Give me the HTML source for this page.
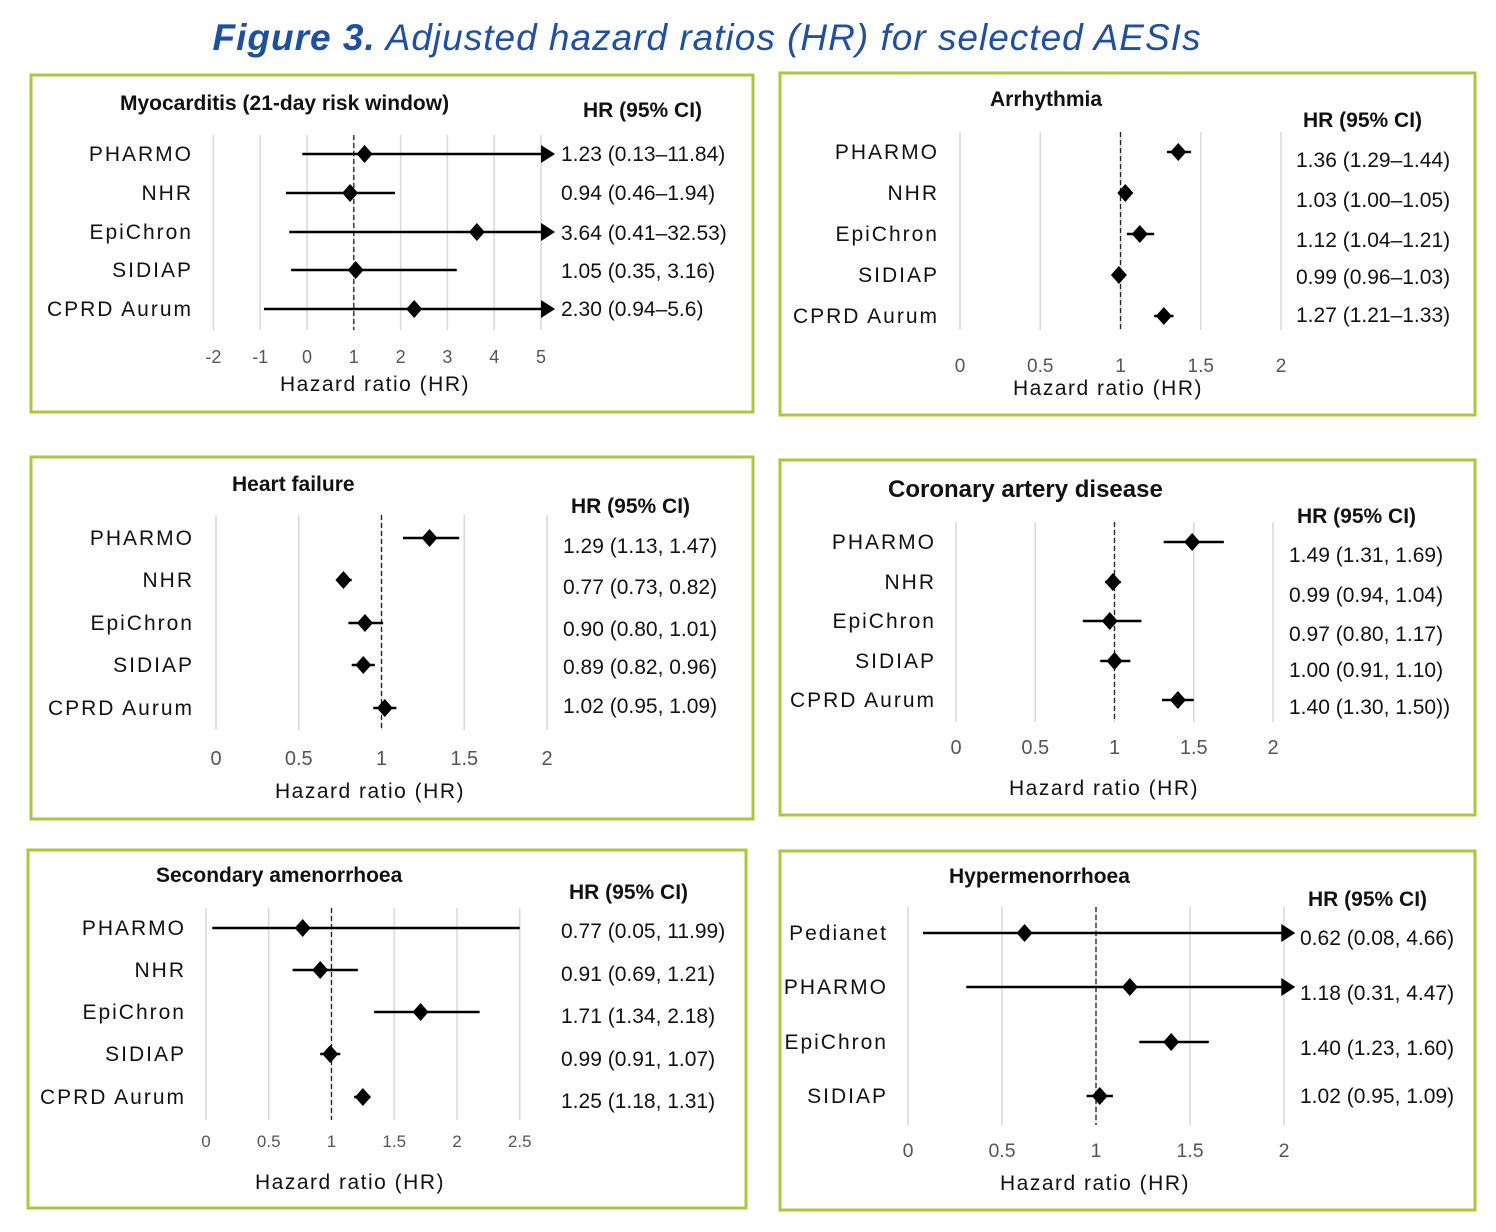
<!DOCTYPE html>
<html><head><meta charset="utf-8"><style>
html,body{margin:0;padding:0;background:#fff}
svg{display:block;font-family:"Liberation Sans",sans-serif}
</style></head><body>
<svg id="fig" width="1496" height="1232" viewBox="0 0 1496 1232">
<text x="707" y="50" text-anchor="middle" font-size="37" letter-spacing="1" font-style="italic" fill="#1f4fa0"><tspan font-weight="bold">Figure 3.</tspan> Adjusted hazard ratios (HR) for selected AESIs</text>
</svg>
<script>
// Panel 1: Myocarditis
const p1Labels=["PHARMO","NHR","EpiChron","SIDIAP","CPRD Aurum"];
const p1HR=[1.23,0.92,3.63,1.04,2.29];
const p1Lo=[-0.1,-0.45,-0.38,-0.34,-0.92];
const p1Hi=[5.3,1.88,5.3,3.2,5.3];
const p1Text=["1.23 (0.13–11.84)","0.94 (0.46–1.94)","3.64 (0.41–32.53)","1.05 (0.35, 3.16)","2.30 (0.94–5.6)"];
const p1Ticks=[-2,-1,0,1,2,3,4,5];
// Panel 2: Arrhythmia
const p2Labels=["PHARMO","NHR","EpiChron","SIDIAP","CPRD Aurum"];
const p2HR=[1.36,1.03,1.12,0.99,1.27];
const p2Lo=[1.29,1.00,1.04,0.96,1.21];
const p2Hi=[1.44,1.05,1.21,1.03,1.33];
const p2Text=["1.36 (1.29–1.44)","1.03 (1.00–1.05)","1.12 (1.04–1.21)","0.99 (0.96–1.03)","1.27 (1.21–1.33)"];
const p2Ticks=[0,0.5,1,1.5,2];
// Panel 3: Heart failure
const p3Labels=["PHARMO","NHR","EpiChron","SIDIAP","CPRD Aurum"];
const p3HR=[1.29,0.77,0.90,0.89,1.02];
const p3Lo=[1.13,0.73,0.80,0.82,0.95];
const p3Hi=[1.47,0.82,1.01,0.96,1.09];
const p3Text=["1.29 (1.13, 1.47)","0.77 (0.73, 0.82)","0.90 (0.80, 1.01)","0.89 (0.82, 0.96)","1.02 (0.95, 1.09)"];
const p3Ticks=[0,0.5,1,1.5,2];
// Panel 4: Coronary artery disease
const p4Labels=["PHARMO","NHR","EpiChron","SIDIAP","CPRD Aurum"];
const p4HR=[1.49,0.99,0.97,1.00,1.40];
const p4Lo=[1.31,0.94,0.80,0.91,1.30];
const p4Hi=[1.69,1.04,1.17,1.10,1.50];
const p4Text=["1.49 (1.31, 1.69)","0.99 (0.94, 1.04)","0.97 (0.80, 1.17)","1.00 (0.91, 1.10)","1.40 (1.30, 1.50))"];
const p4Ticks=[0,0.5,1,1.5,2];
// Panel 5: Secondary amenorrhoea
const p5Labels=["PHARMO","NHR","EpiChron","SIDIAP","CPRD Aurum"];
const p5HR=[0.77,0.91,1.71,0.99,1.25];
const p5Lo=[0.05,0.69,1.34,0.91,1.18];
const p5Hi=[2.5,1.21,2.18,1.07,1.31];
const p5Text=["0.77 (0.05, 11.99)","0.91 (0.69, 1.21)","1.71 (1.34, 2.18)","0.99 (0.91, 1.07)","1.25 (1.18, 1.31)"];
const p5Ticks=[0,0.5,1,1.5,2,2.5];
// Panel 6: Hypermenorrhoea
const p6Labels=["Pedianet","PHARMO","EpiChron","SIDIAP"];
const p6HR=[0.62,1.18,1.40,1.02];
const p6Lo=[0.08,0.31,1.23,0.95];
const p6Hi=[2.06,2.06,1.60,1.09];
const p6Text=["0.62 (0.08, 4.66)","1.18 (0.31, 4.47)","1.40 (1.23, 1.60)","1.02 (0.95, 1.09)"];
const p6Ticks=[0,0.5,1,1.5,2];

const NS="http://www.w3.org/2000/svg";
const svg=document.getElementById('fig');
function mk(tag,attrs,parent,txt){const e=document.createElementNS(NS,tag);for(const k in attrs)e.setAttribute(k,attrs[k]);if(txt!==undefined)e.textContent=txt;(parent||svg).appendChild(e);return e;}

function panel(c){
  const g=mk('g',{});
  
  
  const box=mk('rect',{x:c.box[0],y:c.box[1],width:c.box[2]-c.box[0],height:c.box[3]-c.box[1],fill:'none',stroke:'#a9c73f','stroke-width':3},g);
  
  
  const sx=v=>c.x0+(v-c.t0)*c.ppu;
  const t=mk('text',{x:c.title[0],y:c.title[1],'font-size':c.titleSize||21,'font-weight':'bold',fill:'#111'},g,c.titleText);
  
  
  const h=mk('text',{x:c.head[0],y:c.head[1],'font-size':21,'font-weight':'bold',fill:'#111'},g,'HR (95% CI)');
  
  
  c.ticks.forEach(v=>{
    const gl=mk('line',{x1:sx(v),x2:sx(v),y1:c.grid[0],y2:c.grid[1],stroke:'#d9d9d9','stroke-width':1.5},g);
    
    
    const tl=mk('text',{x:sx(v),y:c.tickY,'text-anchor':'middle','font-size':c.tickSize||19,fill:'#555'},g,String(v));
    
    
  });
  const ref=mk('line',{x1:sx(1),x2:sx(1),y1:c.grid[0],y2:c.grid[1],stroke:'#222','stroke-width':1.3,'stroke-dasharray':'5,3'},g);
  
  
  const at=mk('text',{x:c.axTitle[0],y:c.axTitle[1],'text-anchor':'middle','font-size':21,'letter-spacing':1.5,fill:'#111'},g,'Hazard ratio (HR)');
  
  
  c.labels.forEach((lab,i)=>{
    const y=c.rows[i];
    const l=mk('text',{x:c.labelX,y:y+7,'text-anchor':'end','font-size':21,'letter-spacing':2,fill:'#111'},g,lab);
    
    
    const lo=sx(c.lo[i]),hi=sx(c.hi[i]);
    const arrow=c.arrowMax!==undefined&&c.hi[i]>=c.arrowMax;
    const ci=mk('line',{x1:lo,x2:arrow?hi-12:hi,y1:y,y2:y,stroke:'#000','stroke-width':2.5},g);
    
    
    if(arrow){
      const a=mk('polygon',{points:`${hi},${y} ${hi-14},${y-9} ${hi-14},${y+9}`,fill:'#000'},g);
      
      
    }
    const px=sx(c.hr[i]);
    const d=mk('polygon',{points:`${px},${y-9} ${px+8},${y} ${px},${y+9} ${px-8},${y}`,fill:'#000'},g);
    
    
    const vt=mk('text',{x:c.valX,y:c.valRows[i]+7,'font-size':21,fill:'#111'},g,c.text[i]);
    
    
  });
}

panel({name:'myocarditis-panel',box:[31,75,753,412],title:[120,110],titleText:'Myocarditis (21-day risk window)',head:[583,117],
  x0:307,t0:0,ppu:46.8,ticks:p1Ticks,grid:[135,330],tickY:363,tickSize:18,axTitle:[375,391],labelX:193,
  rows:[154,193,232,270,309],valRows:[154,193,233,271,309],valX:561,labels:p1Labels,hr:p1HR,lo:p1Lo,hi:p1Hi,text:p1Text,arrowMax:5.3});
panel({name:'arrhythmia-panel',box:[780,73,1475,415],title:[990,106],titleText:'Arrhythmia',head:[1303,127],
  x0:960,t0:0,ppu:160.5,ticks:p2Ticks,grid:[132,330],tickY:372,axTitle:[1108,395],labelX:939,
  rows:[152,193,234,275,316],valRows:[160,200,240,277,315],valX:1296,labels:p2Labels,hr:p2HR,lo:p2Lo,hi:p2Hi,text:p2Text});
panel({name:'heart-failure-panel',box:[31,457,753,819],title:[232,491],titleText:'Heart failure',head:[571,513],
  x0:216,t0:0,ppu:165.5,ticks:p3Ticks,grid:[515,730],tickY:765,tickSize:20,axTitle:[370,798],labelX:194,
  rows:[538,580,623,665,708],valRows:[546,587,629,667,706],valX:563,labels:p3Labels,hr:p3HR,lo:p3Lo,hi:p3Hi,text:p3Text});
panel({name:'coronary-artery-disease-panel',box:[780,460,1475,815],title:[888,497],titleSize:24,titleText:'Coronary artery disease',head:[1297,523],
  x0:956,t0:0,ppu:158.5,ticks:p4Ticks,grid:[522,722],tickY:754,tickSize:20,axTitle:[1104,795],labelX:936,
  rows:[542,582,621,661,700],valRows:[555,595,634,670,707],valX:1289,labels:p4Labels,hr:p4HR,lo:p4Lo,hi:p4Hi,text:p4Text});
panel({name:'secondary-amenorrhoea-panel',box:[28,850,746,1208],title:[156,882],titleText:'Secondary amenorrhoea',head:[569,899],
  x0:206,t0:0,ppu:125.5,ticks:p5Ticks,grid:[908,1120],tickY:1147,tickSize:17,axTitle:[350,1189],labelX:186,
  rows:[928,970,1012,1054,1097],valRows:[931,974,1016,1059,1101],valX:561,labels:p5Labels,hr:p5HR,lo:p5Lo,hi:p5Hi,text:p5Text});
panel({name:'hypermenorrhoea-panel',box:[780,851,1475,1210],title:[949,883],titleText:'Hypermenorrhoea',head:[1308,906],
  x0:908,t0:0,ppu:188,ticks:p6Ticks,grid:[907,1125],tickY:1157,tickSize:19.5,axTitle:[1095,1190],labelX:888,
  rows:[933,987,1042,1096],valRows:[938,993,1048,1096],valX:1300,labels:p6Labels,hr:p6HR,lo:p6Lo,hi:p6Hi,text:p6Text,arrowMax:2.06});
</script>
</body></html>
